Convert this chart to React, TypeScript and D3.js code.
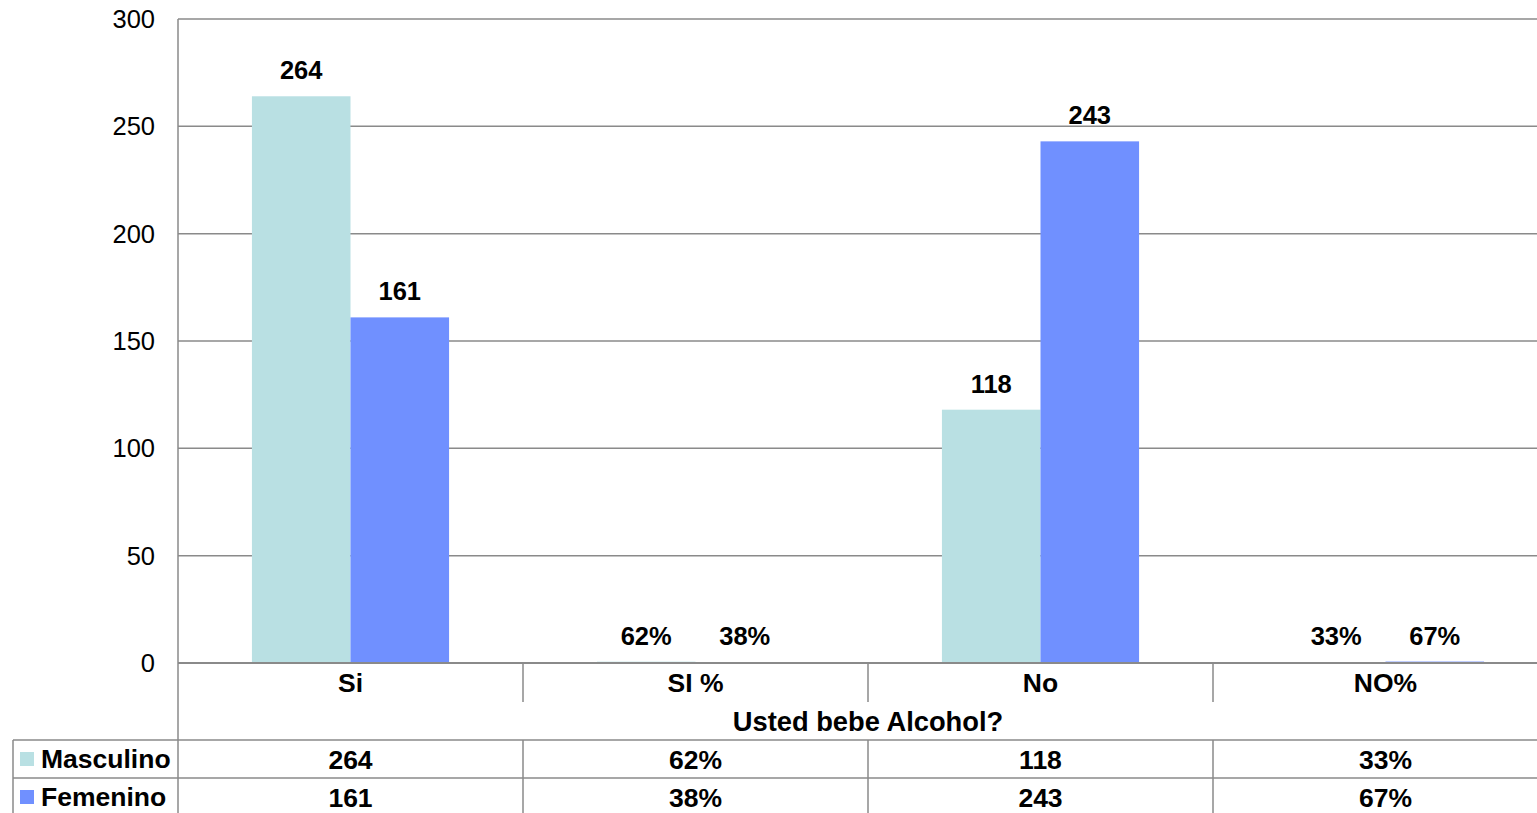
import React from "react";
import * as d3 from "d3";

const categories = ["Si", "SI %", "No", "NO%"];
const series = ["Masculino", "Femenino"];
const masculino = [264, 0.62, 118, 0.33];
const femenino = [161, 0.38, 243, 0.67];
const isPercent = [false, true, false, true];
const yTicks = [0, 50, 100, 150, 200, 250, 300];
const axisTitle = "Usted bebe Alcohol?";
const colors = ["#B9E0E3", "#7090FF"];

const W = 1537;
const H = 813;
const plotLeft = 178;
const plotRight = 1558;
const plotTop = 19;
const plotBottom = 663;
const tableTop = 740;
const rowH = 38;
const FONT = "'Liberation Sans', Arial, sans-serif";
const GRID = "#8A8A8A";

export default function App() {
  const x0 = d3.scaleBand<string>().domain(categories).range([plotLeft, plotRight]).padding(0);
  const x1 = d3.scaleBand<string>().domain(series).range([0, x0.bandwidth()]).paddingInner(0).paddingOuter(0.75);
  const y = d3.scaleLinear().domain([0, 300]).range([plotBottom, plotTop]);
  const values = [masculino, femenino];
  const fmt = (v: number, i: number) => (isPercent[i] ? d3.format(".0%")(v) : String(v));
  const fs = 25.5;
  const fsB = 26.5;

  return (
    <div style={{ position: "fixed", left: 0, top: 0, width: W, height: H, background: "#fff" }}>
      <svg width={W} height={H} style={{ display: "block", fontFamily: FONT }}>
        <rect width={W} height={H} fill="#fff" />
        {yTicks.map((t) => (
          <g key={t}>
            {t !== 0 && (
              <line x1={plotLeft} x2={plotRight} y1={y(t)} y2={y(t)} stroke={GRID} strokeWidth={1.5} />
            )}
            <text x={155} y={y(t)} dy="0.35em" textAnchor="end" fontSize={fs} fill="#000">
              {t}
            </text>
          </g>
        ))}
        {series.map((s, si) =>
          categories.map((c, ci) => {
            const v = values[si][ci];
            const bx = (x0(c) as number) + (x1(s) as number);
            return (
              <g key={s + c}>
                <rect x={bx} y={y(v)} width={x1.bandwidth()} height={plotBottom - y(v)} fill={colors[si]} />
                <text
                  x={bx + x1.bandwidth() / 2}
                  y={y(v) - 17}
                  textAnchor="middle"
                  fontSize={fs}
                  fontWeight="bold"
                  fill="#000"
                >
                  {fmt(v, ci)}
                </text>
              </g>
            );
          })
        )}
        {/* axes */}
        <line x1={plotLeft} x2={plotLeft} y1={plotTop} y2={H} stroke={GRID} strokeWidth={1.5} />
        <line x1={plotLeft} x2={plotRight} y1={plotBottom} y2={plotBottom} stroke={GRID} strokeWidth={2} />
        {categories.map((c, ci) => (
          <g key={c}>
            {ci > 0 && (
              <>
                <line x1={x0(c)} x2={x0(c)} y1={plotBottom} y2={702} stroke={GRID} strokeWidth={1.5} />
                <line x1={x0(c)} x2={x0(c)} y1={tableTop} y2={H} stroke={GRID} strokeWidth={1.5} />
              </>
            )}
            <text
              x={(x0(c) as number) + x0.bandwidth() / 2}
              y={683}
              dy="0.35em"
              textAnchor="middle"
              fontSize={fsB}
              fontWeight="bold"
            >
              {c}
            </text>
          </g>
        ))}
        <text x={868} y={721} dy="0.35em" textAnchor="middle" fontSize={fsB + 0.8} fontWeight="bold">
          {axisTitle}
        </text>
        {/* data table */}
        <line x1={13} x2={plotRight} y1={tableTop} y2={tableTop} stroke={GRID} strokeWidth={1.5} />
        <line x1={13} x2={plotRight} y1={tableTop + rowH} y2={tableTop + rowH} stroke={GRID} strokeWidth={1.5} />
        <line x1={13} x2={13} y1={tableTop} y2={H} stroke={GRID} strokeWidth={1.5} />
        {series.map((s, si) => {
          const cy = tableTop + rowH * si + rowH / 2;
          return (
            <g key={s}>
              <rect x={20} y={cy - 7} width={14} height={14} fill={colors[si]} />
              <text x={41} y={cy} dy="0.35em" fontSize={fsB} fontWeight="bold">
                {s}
              </text>
              {categories.map((c, ci) => (
                <text
                  key={c}
                  x={(x0(c) as number) + x0.bandwidth() / 2}
                  y={cy + 1}
                  dy="0.35em"
                  textAnchor="middle"
                  fontSize={fsB}
                  fontWeight="bold"
                >
                  {fmt(values[si][ci], ci)}
                </text>
              ))}
            </g>
          );
        })}
      </svg>
    </div>
  );
}
